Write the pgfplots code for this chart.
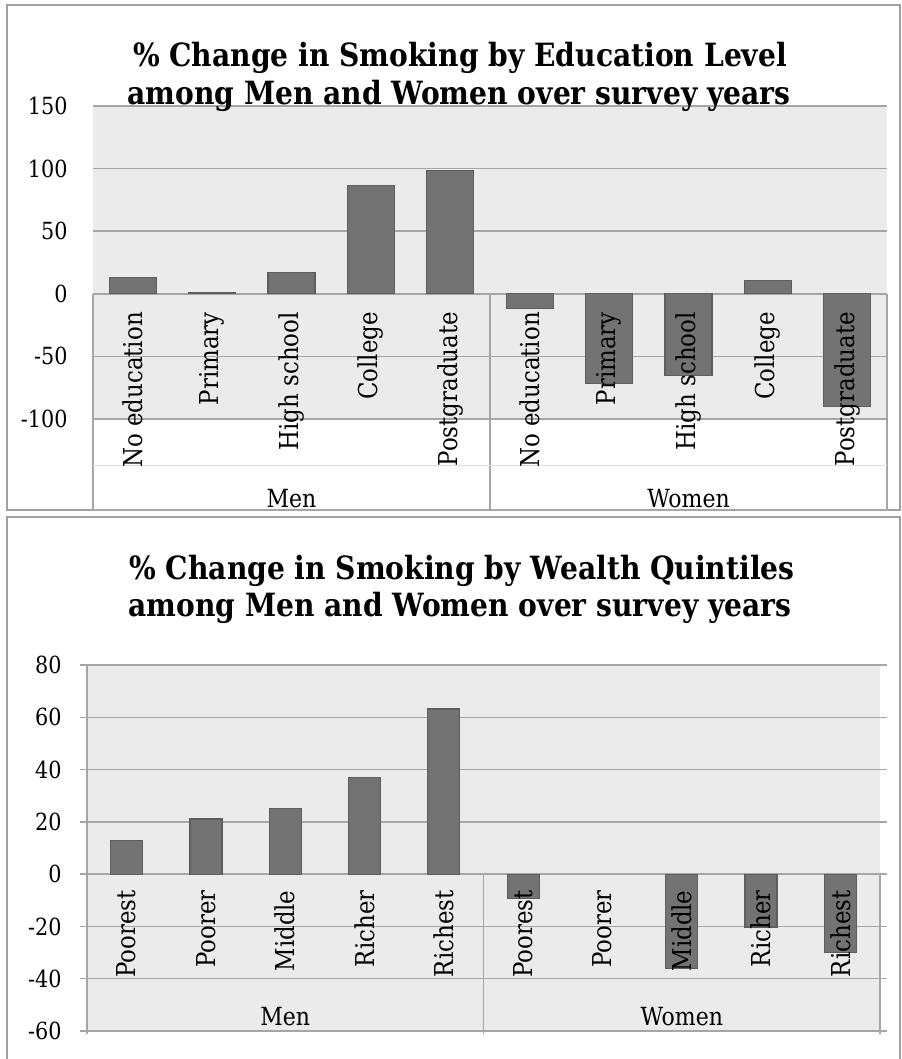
\documentclass[border=0pt]{standalone}
\usepackage{fontspec}
\setmainfont{DejaVu Serif}[FakeStretch=0.88]
\usepackage{pgfplots}
\pgfplotsset{compat=1.18}
\definecolor{bgc}{HTML}{EBEBEB}
\definecolor{gridc}{HTML}{A6A6A6}
\definecolor{barc}{HTML}{737373}
\definecolor{bard}{HTML}{5E5E5E}
\definecolor{boxc}{HTML}{A0A0A0}
\newcommand\lab{\fontsize{13pt}{15pt}\selectfont}
\newcommand\grpf{\fontsize{12.5pt}{15pt}\selectfont}
\newcommand\tickf{\fontsize{11.8pt}{14pt}\selectfont}
\newcommand\ttl{\fontsize{16pt}{19.5pt}\selectfont\bfseries}
\tikzset{lbl/.style={rotate=90, anchor=east, inner sep=0pt, font=\lab},
         grp/.style={anchor=base, inner sep=0pt, font=\grpf}}
\pgfplotsset{
 myax/.style={scale only axis, anchor=south west, clip=false,
   axis background/.style={fill=bgc},
   axis line style={draw=none},
   ymajorgrids, grid style={gridc, line width=0.75pt},
   xmin=-0.5, xmax=9.5, xtick=\empty,
   ybar, 
   yticklabel style={font=\tickf, inner sep=0pt},
 }
}
\begin{document}
\begin{tikzpicture}
\path[use as bounding box] (0,0) rectangle (450.5pt,529.5pt);
\draw[boxc, line width=1pt] (3.5pt,274.5pt) rectangle (450pt,527pt);
\draw[boxc, line width=1pt] (3.5pt,-5pt) rectangle (450pt,271pt);

% ---------- top chart ----------
\begin{axis}[myax, at={(46.5pt,320pt)}, width=397pt, height=156.5pt,
  ymin=-100, ymax=150, ytick={-100,-50,0,50,100,150},
  yticklabels={-100,-50,0,50,100,150},
  major tick length=0pt, yticklabel style={xshift=-12.5pt},
  bar width=23.5pt]
\addplot[fill=barc, draw=bard, line width=0.6pt] coordinates
  {(0,13.3) (1,1.0) (2,17.0) (3,86.4) (4,98.4) (5,-12) (6,-71.4) (7,-65) (8,10.6) (9,-90)};
\draw[gridc, line width=0.75pt] (axis cs:-0.5,0) -- (axis cs:-0.5,-172.5);
\draw[gridc, line width=0.75pt] (axis cs:4.5,0) -- (axis cs:4.5,-172.5);
\draw[gridc, line width=0.75pt] (axis cs:9.5,0) -- (axis cs:9.5,-172.5);
\draw[gridc!35, line width=0.6pt] (axis cs:-0.5,-137.4) -- (axis cs:9.5,-137.4);
\draw[gridc, line width=0.75pt] (axis cs:-0.5,-172.5) -- (axis cs:9.5,-172.5);
\node[lbl] at (axis cs:0,-14.4) {No education};
\node[lbl] at (axis cs:1,-14.4) {Primary};
\node[lbl] at (axis cs:2,-14.4) {High school};
\node[lbl] at (axis cs:3,-14.4) {College};
\node[lbl] at (axis cs:4,-14.4) {Postgraduate};
\node[lbl] at (axis cs:5,-14.4) {No education};
\node[lbl] at (axis cs:6,-14.4) {Primary};
\node[lbl] at (axis cs:7,-14.4) {High school};
\node[lbl] at (axis cs:8,-14.4) {College};
\node[lbl] at (axis cs:9,-14.4) {Postgraduate};
\node[grp] at (axis cs:2,-170.9) {Men};
\node[grp] at (axis cs:7,-170.9) {Women};
\end{axis}
\node[font=\ttl, anchor=base, inner sep=0pt] at (230pt,496pt) {\% Change in Smoking by Education Level};
\node[font=\ttl, anchor=base, inner sep=0pt] at (229.5pt,477pt) {among Men and Women over survey years};

% ---------- bottom chart ----------
\begin{axis}[myax, at={(43.5pt,14pt)}, width=396.5pt, height=183pt,
  ymin=-60, ymax=80, ytick={-60,-40,-20,0,20,40,60,80},
  yticklabels={-60,-40,-20,0,20,40,60,80},
  tick align=outside, major tick length=3.5pt,
  ytick style={gridc, line width=0.75pt},
  yticklabel style={xshift=-9pt},
  bar width=16pt]
\addplot[fill=barc, draw=bard, line width=0.6pt] coordinates
  {(0,13.0) (1,21.1) (2,25.1) (3,37.0) (4,63.2) (5,-9.3) (7,-36.1) (8,-20.2) (9,-30.0)};
\draw[gridc, line width=0.75pt] (axis cs:-0.5,80) -- (axis cs:-0.5,-61.2);
\draw[gridc, line width=0.75pt] (axis cs:4.5,0) -- (axis cs:4.5,-61.2);
\draw[gridc, line width=0.75pt] (axis cs:9.5,0) -- (axis cs:9.5,-61.2);
\node[lbl] at (axis cs:0,-6.1) {Poorest};
\node[lbl] at (axis cs:1,-6.1) {Poorer};
\node[lbl] at (axis cs:2,-6.1) {Middle};
\node[lbl] at (axis cs:3,-6.1) {Richer};
\node[lbl] at (axis cs:4,-6.1) {Richest};
\node[lbl] at (axis cs:5,-6.1) {Poorest};
\node[lbl] at (axis cs:6,-6.1) {Poorer};
\node[lbl] at (axis cs:7,-6.1) {Middle};
\node[lbl] at (axis cs:8,-6.1) {Richer};
\node[lbl] at (axis cs:9,-6.1) {Richest};
\node[grp] at (axis cs:2,-57.8) {Men};
\node[grp] at (axis cs:7,-57.8) {Women};
\end{axis}
\node[font=\ttl, anchor=base, inner sep=0pt] at (231pt,239.5pt) {\% Change in Smoking by Wealth Quintiles};
\node[font=\ttl, anchor=base, inner sep=0pt] at (230pt,221pt) {among Men and Women over survey years};
\end{tikzpicture}
\end{document}
